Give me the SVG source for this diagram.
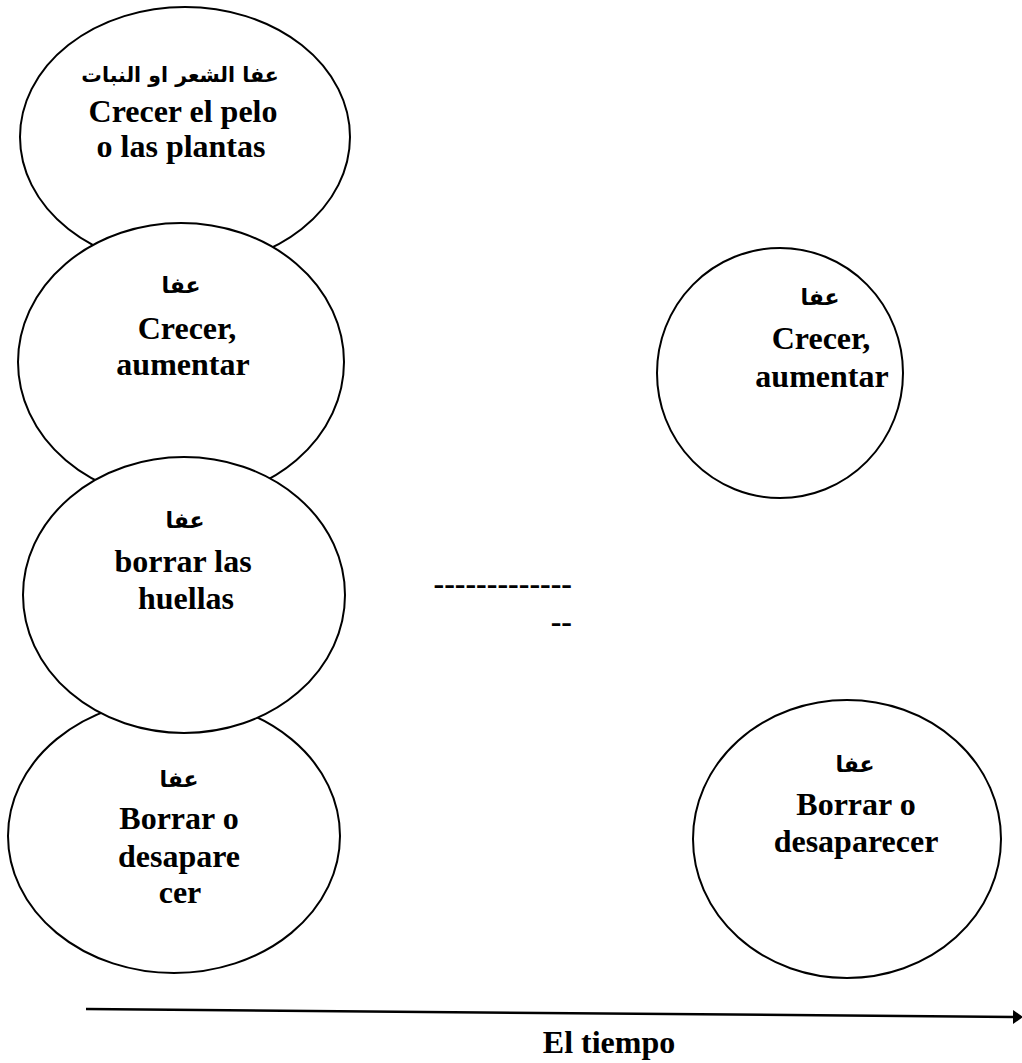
<svg xmlns="http://www.w3.org/2000/svg" width="1022" height="1063" viewBox="0 0 1022 1063">
<style>
.node ellipse{fill:#fff;stroke:#000;stroke-width:2}
.t{font-family:"Liberation Serif","Times New Roman",serif;font-weight:bold;font-size:32px;fill:#000;text-anchor:middle}
.ar{font-family:"DejaVu Sans","Noto Sans",sans-serif;font-weight:bold;font-size:22px;fill:#000;text-anchor:middle}
</style>
<defs>
<marker id="arr" viewBox="0 0 10 14" refX="1" refY="7" markerWidth="10" markerHeight="14" markerUnits="userSpaceOnUse" orient="auto">
<path d="M0,0 L10,7 L0,14 Z" fill="#000"/>
</marker>
</defs>
<rect width="1022" height="1063" fill="#fff"/>
<g id="n1" class="node">
<ellipse cx="185" cy="137" rx="165" ry="130"/>
<text class="ar" x="180" y="82" direction="rtl" style="font-size:20.5px">عفا الشعر او النبات</text>
<text class="t" x="183" y="122">Crecer el pelo</text>
<text class="t" x="181" y="157">o las plantas</text>
</g>
<g id="n2" class="node">
<ellipse cx="181" cy="362" rx="163" ry="139"/>
<text class="ar" x="181" y="293" direction="rtl">عفا</text>
<text class="t" x="187" y="339">Crecer,</text>
<text class="t" x="183" y="375">aumentar</text>
</g>
<g id="n4" class="node">
<ellipse cx="174" cy="836" rx="166" ry="137"/>
<text class="ar" x="179" y="787" direction="rtl">عفا</text>
<text class="t" x="179" y="829">Borrar o</text>
<text class="t" x="179" y="867">desapare</text>
<text class="t" x="180" y="903">cer</text>
</g>
<g id="n3" class="node">
<ellipse cx="184" cy="595" rx="161" ry="138"/>
<text class="ar" x="185" y="528" direction="rtl">عفا</text>
<text class="t" x="183" y="572">borrar las</text>
<text class="t" x="186" y="609">huellas</text>
</g>
<g id="n5" class="node">
<ellipse cx="780" cy="373" rx="123" ry="125"/>
<text class="ar" x="820" y="305" direction="rtl">عفا</text>
<text class="t" x="821" y="349">Crecer,</text>
<text class="t" x="822" y="387">aumentar</text>
</g>
<g id="n6" class="node">
<ellipse cx="847" cy="839" rx="154" ry="139"/>
<text class="ar" x="855" y="772" direction="rtl">عفا</text>
<text class="t" x="856" y="815">Borrar o</text>
<text class="t" x="856" y="852">desaparecer</text>
</g>
<g id="dashes">
<text class="t" x="572" y="594" style="text-anchor:end">-------------</text>
<text class="t" x="572" y="632" style="text-anchor:end">--</text>
</g>
<g id="connectors">
<line x1="86" y1="1009" x2="1014" y2="1017" stroke="#000" stroke-width="2.5" marker-end="url(#arr)"/>
</g>
<text class="t" x="609" y="1053">El tiempo</text>
</svg>
